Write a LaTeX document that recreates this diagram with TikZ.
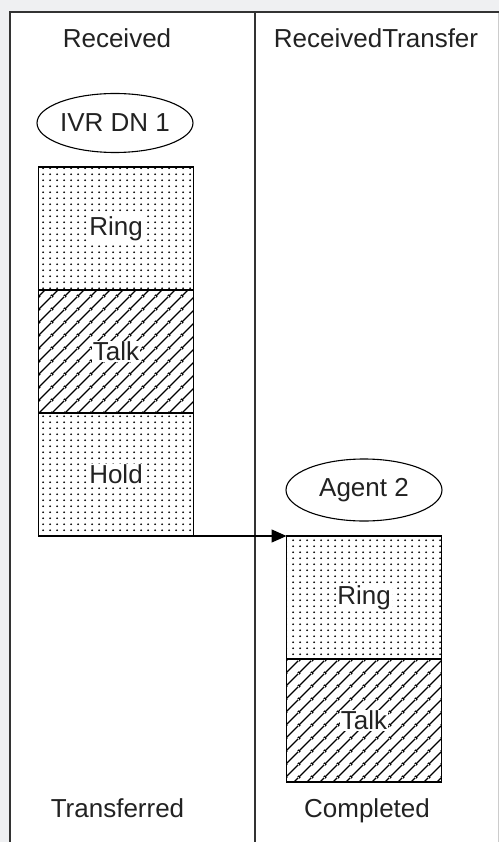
\documentclass[tikz,border=0pt]{standalone}
\usepackage{fontspec}
\setmainfont{Liberation Sans}
\usetikzlibrary{patterns.meta,arrows.meta,shapes.geometric}
\definecolor{txt}{HTML}{222222}
\definecolor{frame}{HTML}{333333}
\definecolor{bg}{HTML}{EFF0F2}
\tikzdeclarepattern{
  name=mydots, type=uncolored,
  bottom left={(0pt,0pt)}, top right={(6.6pt,6.2pt)},
  tile size={(6.6pt,6.2pt)},
  code={\fill (3.3pt,3.1pt) circle (1pt);}
}
\tikzdeclarepattern{
  name=myhatch, type=uncolored,
  bottom left={(0pt,0pt)}, top right={(13pt,13pt)},
  tile size={(13pt,13pt)},
  code={\draw[line width=1.4pt] (0pt,0pt) -- (13pt,13pt);
        \draw[line width=1.4pt] (-2pt,11pt) -- (2pt,15pt);
        \draw[line width=1.4pt] (11pt,-2pt) -- (15pt,2pt);}
}
\tikzset{
  base/.style={font=\fontsize{26}{30}\selectfont, text=txt},
  dotbox/.style={draw=black, line width=1.4pt, pattern={mydots}, pattern color=black, minimum width=155pt, minimum height=123pt, inner sep=0pt, outer sep=0pt},
  hatchbox/.style={draw=black, line width=1.4pt, pattern={myhatch}, pattern color=black, minimum width=155pt, minimum height=123pt, inner sep=0pt, outer sep=0pt},
  lbl/.style={base, fill=white, inner sep=1pt},
  oval/.style={base, draw=black, line width=1.1pt, ellipse, minimum width=156pt, minimum height=59pt, inner sep=0pt},
  head/.style={base, anchor=base, inner sep=0pt},
  conn/.style={line width=1.4pt, -{Triangle[length=15pt,width=13pt]}}
}
\begin{document}
\begin{tikzpicture}[x=1pt,y=-1pt]
\useasboundingbox (0,0) rectangle (499,842);
\fill[bg] (0,0) rectangle (499,842);
\fill[white] (9.5,12.5) rectangle (497.5,842);
\draw[gray!40, line width=1pt] (498,12.5) -- (498,842);
\draw[frame, line width=2pt] (9.5,842) -- (9.5,12.5) -- (499,12.5);
\draw[frame, line width=2pt] (254.5,12.5) -- (254.5,842);

\node[head] (h1) at (117,48) {Received};
\node[head] (h2) at (376,48) {ReceivedTransfer};
\node[head] (f1) at (117.5,817) {Transferred};
\node[head] (f2) at (367,817) {Completed};

\node[oval] (ivr) at (115,123) {IVR DN 1};
\node[oval, minimum height=62pt] (ag) at (364,490) {Agent 2};

\node[dotbox] (ring1) at (116,228.5) {};
\node[hatchbox] (talk1) at (116,351.5) {};
\node[dotbox] (hold1) at (116,474.5) {};
\node[dotbox] (ring2) at (364,597.5) {};
\node[hatchbox] (talk2) at (364,720.5) {};

\node[lbl] at (ring1.center) {Ring};
\node[lbl] at (talk1.center) {Talk};
\node[lbl] at (hold1.center) {Hold};
\node[lbl] at (ring2.center) {Ring};
\node[lbl] at (talk2.center) {Talk};

\draw[conn] (hold1.south east) -- (ring2.north west);
\end{tikzpicture}
\end{document}
